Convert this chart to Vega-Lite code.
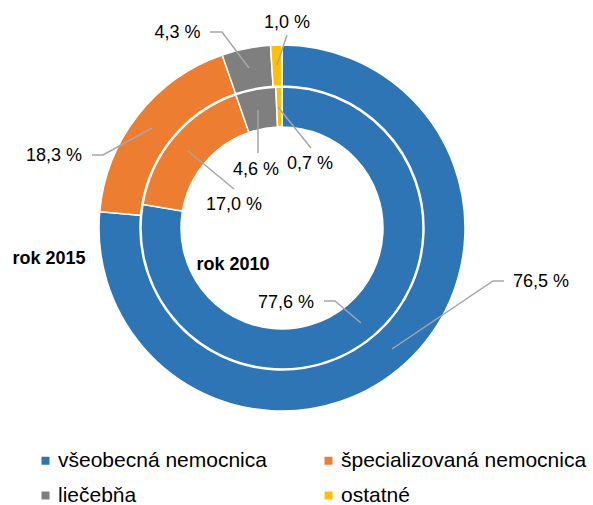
{
  "$schema": "https://vega.github.io/schema/vega-lite/v6.json",
  "width": 564,
  "height": 456,
  "autosize": {"type": "none"},
  "padding": {"left": 0, "top": 0, "right": 29, "bottom": 49},
  "background": "white",
  "config": {
    "view": {"stroke": null},
    "font": "Liberation Sans",
    "legend": {
      "orient": "none",
      "direction": "horizontal",
      "legendX": 35,
      "legendY": 450,
      "columns": 2,
      "columnPadding": 51,
      "rowPadding": 13,
      "symbolType": "square",
      "symbolSize": 64,
      "symbolStrokeWidth": 0,
      "labelFontSize": 21,
      "labelFont": "Liberation Sans",
      "labelColor": "#000000",
      "labelOffset": 2,
      "padding": 0,
      "labelLimit": 400
    }
  },
  "datasets": {
    "rings": [
      {"rok": 2015, "typ": "všeobecná nemocnica", "podiel": 76.5, "poradie": 1},
      {"rok": 2015, "typ": "špecializovaná nemocnica", "podiel": 18.3, "poradie": 2},
      {"rok": 2015, "typ": "liečebňa", "podiel": 4.3, "poradie": 3},
      {"rok": 2015, "typ": "ostatné", "podiel": 1.0, "poradie": 4},
      {"rok": 2010, "typ": "všeobecná nemocnica", "podiel": 77.6, "poradie": 1},
      {"rok": 2010, "typ": "špecializovaná nemocnica", "podiel": 17.0, "poradie": 2},
      {"rok": 2010, "typ": "liečebňa", "podiel": 4.6, "poradie": 3},
      {"rok": 2010, "typ": "ostatné", "podiel": 0.7, "poradie": 4}
    ],
    "leaders": [
      {"id": "76,5", "k": 1, "x": 110, "y": -121},
      {"id": "76,5", "k": 2, "x": 211, "y": -53},
      {"id": "76,5", "k": 3, "x": 222, "y": -53},
      {"id": "77,6", "k": 1, "x": 42, "y": -73},
      {"id": "77,6", "k": 2, "x": 53, "y": -73},
      {"id": "77,6", "k": 3, "x": 79, "y": -95},
      {"id": "17,0", "k": 1, "x": -94, "y": 77},
      {"id": "17,0", "k": 2, "x": -48, "y": 39},
      {"id": "4,6", "k": 1, "x": -24, "y": 118},
      {"id": "4,6", "k": 2, "x": -24, "y": 75},
      {"id": "0,7", "k": 1, "x": -4, "y": 121},
      {"id": "0,7", "k": 2, "x": 29, "y": 80},
      {"id": "18,3", "k": 1, "x": -190, "y": 73},
      {"id": "18,3", "k": 2, "x": -179, "y": 73},
      {"id": "18,3", "k": 3, "x": -130, "y": 100},
      {"id": "4,3", "k": 1, "x": -72, "y": 196},
      {"id": "4,3", "k": 2, "x": -60, "y": 196},
      {"id": "4,3", "k": 3, "x": -33, "y": 160},
      {"id": "1,0", "k": 1, "x": 5, "y": 193},
      {"id": "1,0", "k": 2, "x": -5, "y": 163}
    ],
    "labels": [
      {"t": "76,5 %", "x": 259, "y": -54},
      {"t": "77,6 %", "x": 4, "y": -74.5},
      {"t": "17,0 %", "x": -48, "y": 23},
      {"t": "4,6 %", "x": -26, "y": 58},
      {"t": "0,7 %", "x": 28, "y": 64},
      {"t": "18,3 %", "x": -228, "y": 72},
      {"t": "4,3 %", "x": -104.5, "y": 195},
      {"t": "1,0 %", "x": 5, "y": 205.5}
    ],
    "titles": [
      {"t": "rok 2015", "x": -233, "y": -31},
      {"t": "rok 2010", "x": -49, "y": -37}
    ]
  },
  "layer": [
    {
      "data": {"name": "rings"},
      "transform": [{"filter": "datum.rok == 2015"}],
      "mark": {"type": "arc", "outerRadius": 183, "innerRadius": 142, "stroke": "white", "strokeWidth": 1.5},
      "encoding": {
        "theta": {"field": "podiel", "type": "quantitative", "stack": true},
        "order": {"field": "poradie", "type": "quantitative"},
        "color": {
          "field": "typ",
          "type": "nominal",
          "title": null,
          "scale": {
            "domain": ["všeobecná nemocnica", "špecializovaná nemocnica", "liečebňa", "ostatné"],
            "range": ["#2E75B6", "#ED7D31", "#7F7F7F", "#FFC000"]
          }
        }
      }
    },
    {
      "data": {"name": "rings"},
      "transform": [{"filter": "datum.rok == 2010"}],
      "mark": {"type": "arc", "outerRadius": 141, "innerRadius": 101, "stroke": "white", "strokeWidth": 1.5},
      "encoding": {
        "theta": {"field": "podiel", "type": "quantitative", "stack": true},
        "order": {"field": "poradie", "type": "quantitative"},
        "color": {"field": "typ", "type": "nominal"}
      }
    },
    {
      "data": {"name": "leaders"},
      "mark": {"type": "line", "color": "#A6A6A6", "strokeWidth": 1.5},
      "encoding": {
        "x": {"field": "x", "type": "quantitative", "scale": {"domain": [-282, 282], "nice": false, "zero": false}, "axis": null},
        "y": {"field": "y", "type": "quantitative", "scale": {"domain": [-228, 228], "nice": false, "zero": false}, "axis": null},
        "detail": {"field": "id"},
        "order": {"field": "k", "type": "quantitative"}
      }
    },
    {
      "data": {"name": "labels"},
      "mark": {"type": "text", "fontSize": 18, "font": "Liberation Sans", "color": "#000000", "align": "center", "baseline": "middle"},
      "encoding": {
        "x": {"field": "x", "type": "quantitative"},
        "y": {"field": "y", "type": "quantitative"},
        "text": {"field": "t"}
      }
    },
    {
      "data": {"name": "titles"},
      "mark": {"type": "text", "fontSize": 18, "fontWeight": "bold", "font": "Liberation Sans", "color": "#000000", "align": "center", "baseline": "middle"},
      "encoding": {
        "x": {"field": "x", "type": "quantitative"},
        "y": {"field": "y", "type": "quantitative"},
        "text": {"field": "t"}
      }
    }
  ],
  "resolve": {"scale": {"theta": "independent"}}
}
